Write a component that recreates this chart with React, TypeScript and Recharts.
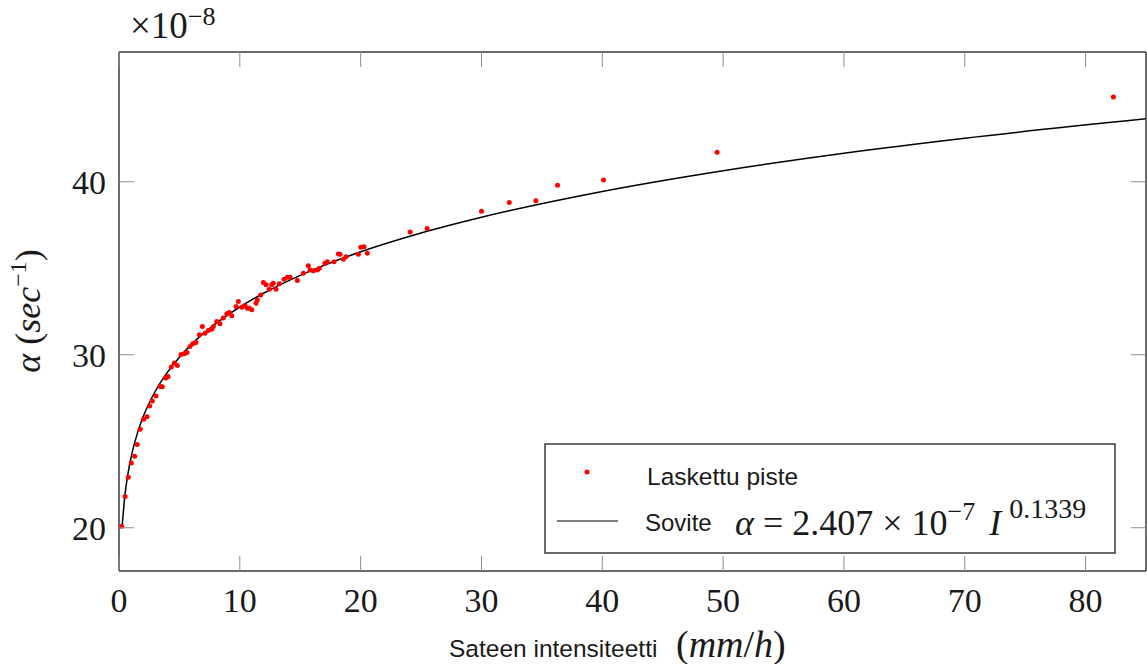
import { ComposedChart, Scatter, Line, XAxis, YAxis } from "recharts";

// Laskettu piste: rain intensity (mm/h) and alpha (x 1e-8 1/s)
const intensity = [
  0.22, 0.5, 0.77, 1.02, 1.3, 1.51, 1.76, 2.04, 2.32, 2.54, 2.76, 3.06, 3.42,
  3.58, 3.87, 4.06, 4.33, 4.58, 4.83, 5.13, 5.41, 5.63, 5.88, 6.1, 6.37, 6.65,
  6.9, 7.12, 7.39, 7.67, 7.81, 8.09, 8.36, 8.63, 8.92, 9.13, 9.33, 9.69, 9.88,
  10.16, 10.43, 10.62, 10.79, 10.99, 11.34, 11.45, 11.73, 11.95, 12.17, 12.44,
  12.64, 12.77, 13.0, 13.27, 13.66, 13.93, 14.16, 14.76, 15.26, 15.67, 15.81,
  16.08, 16.42, 16.58, 17.05, 17.24, 17.8, 18.15, 18.29, 18.57, 18.79, 19.81,
  20.01, 20.28, 20.55, 24.1, 25.5, 30.0, 32.3, 34.5, 36.3, 40.1, 49.5, 82.3,
];
const alpha = [
  20.09, 21.81, 22.92, 23.75, 24.13, 24.81, 25.69, 26.27, 26.42, 27.04, 27.33,
  27.62, 28.17, 28.15, 28.66, 28.75, 29.29, 29.52, 29.38, 30.02, 30.06, 30.13,
  30.48, 30.63, 30.71, 31.15, 31.63, 31.25, 31.4, 31.48, 31.63, 31.92, 31.79,
  32.12, 32.37, 32.44, 32.25, 32.79, 33.08, 32.75, 32.83, 32.69, 32.69, 32.6,
  32.98, 33.17, 33.46, 34.17, 34.04, 33.79, 34.04, 34.14, 33.79, 34.1, 34.37,
  34.48, 34.48, 34.29, 34.71, 35.14, 34.9, 34.86, 34.9, 35.0, 35.29, 35.38,
  35.38, 35.83, 35.81, 35.52, 35.67, 35.81, 36.21, 36.25, 35.87, 37.1, 37.3,
  38.3, 38.8, 38.9, 39.8, 40.1, 41.7, 44.9,
];

// Sovite: fitted curve
const fitIntensity = [0.25, 0.5, 0.75, 1, 1.5, 2, 3, 4, 5, 6, 7.5, 10, 12, 15, 20, 25, 30, 40, 50, 60, 70, 85];
const fitAlpha = [
  19.99, 21.94, 23.16, 24.07, 25.41, 26.41, 27.89, 28.98, 29.86, 30.6, 31.52,
  32.76, 33.57, 34.59, 35.95, 37.04, 37.95, 39.44, 40.64, 41.65, 42.52, 43.64,
];

const xTicks = [0, 10, 20, 30, 40, 50, 60, 70, 80];
const yTicks = [20, 30, 40];

const points = intensity.map((x, i) => ({ x, y: alpha[i] }));
const fit = fitIntensity.map((x, i) => ({ x, y: fitAlpha[i] }));

const SERIF = '"Liberation Serif", "Times New Roman", serif';
const SANS = '"Liberation Sans", Arial, sans-serif';
const FRAME = "#3a3a3a";
const TICK = "#8c8c8c";
const TICK_LEN = 15;
const INK = "#1a1a1a";

const BottomTick = (props: any) => {
  const { x, y, payload } = props;
  return (
    <g>
      <line x1={x} y1={y} x2={x} y2={y - TICK_LEN} stroke={TICK} strokeWidth={1} />
      <text x={x} y={y + 41} textAnchor="middle" fontFamily={SERIF} fontSize={34} fill={INK}>
        {payload.value}
      </text>
    </g>
  );
};

const TopTick = (props: any) => (
  <line x1={props.x} y1={props.y} x2={props.x} y2={props.y + TICK_LEN} stroke={TICK} strokeWidth={1} />
);

const LeftTick = (props: any) => {
  const { x, y, payload } = props;
  return (
    <g>
      <line x1={x} y1={y} x2={x + TICK_LEN} y2={y} stroke={TICK} strokeWidth={1} />
      <text x={x - 13} y={y} dy="0.35em" textAnchor="end" fontFamily={SERIF} fontSize={34} fill={INK}>
        {payload.value}
      </text>
    </g>
  );
};

const RightTick = (props: any) => (
  <line x1={props.x} y1={props.y} x2={props.x - TICK_LEN} y2={props.y} stroke={TICK} strokeWidth={1} />
);

const Dot = (props: any) => <circle cx={props.cx} cy={props.cy} r={2.5} fill="#ff0000" />;

export default function App() {
  return (
    <div style={{ position: "absolute", left: 0, top: 0, width: 1147, height: 664, background: "#fff" }}>
      <ComposedChart width={1147} height={664} margin={{ top: 51, right: 0, left: 0, bottom: 0 }}>
        <XAxis
          xAxisId="b"
          dataKey="x"
          type="number"
          domain={[0, 85]}
          ticks={xTicks}
          allowDataOverflow
          height={93}
          axisLine={{ stroke: FRAME, strokeWidth: 1.5 }}
          tickLine={false}
          tickSize={0}
          tickMargin={0}
          tick={(p: any) => <BottomTick {...p} />}
          interval={0}
        />
        <XAxis
          xAxisId="t"
          dataKey="x"
          type="number"
          orientation="top"
          domain={[0, 85]}
          ticks={xTicks}
          allowDataOverflow
          height={1}
          axisLine={{ stroke: FRAME, strokeWidth: 1.5 }}
          tickLine={false}
          tickSize={0}
          tickMargin={0}
          tick={(p: any) => <TopTick {...p} />}
          interval={0}
        />
        <YAxis
          yAxisId="l"
          dataKey="y"
          type="number"
          domain={[17.5, 47.5]}
          ticks={yTicks}
          allowDataOverflow
          width={119}
          axisLine={{ stroke: FRAME, strokeWidth: 1.5 }}
          tickLine={false}
          tickSize={0}
          tickMargin={0}
          tick={(p: any) => <LeftTick {...p} />}
          interval={0}
        />
        <YAxis
          yAxisId="r"
          dataKey="y"
          type="number"
          orientation="right"
          domain={[17.5, 47.5]}
          ticks={yTicks}
          allowDataOverflow
          width={1}
          axisLine={{ stroke: FRAME, strokeWidth: 1.5 }}
          tickLine={false}
          tickSize={0}
          tickMargin={0}
          tick={(p: any) => <RightTick {...p} />}
          interval={0}
        />
        <Line
          xAxisId="b"
          yAxisId="l"
          data={fit}
          dataKey="y"
          name="Sovite"
          type="monotone"
          stroke="#000"
          strokeWidth={1.5}
          dot={false}
          isAnimationActive={false}
        />
        <Scatter
          xAxisId="b"
          yAxisId="l"
          data={points}
          dataKey="y"
          name="Laskettu piste"
          fill="#ff0000"
          shape={(p: any) => <Dot {...p} />}
          isAnimationActive={false}
        />
      </ComposedChart>

      <svg width={1147} height={664} style={{ position: "absolute", left: 0, top: 0, pointerEvents: "none" }}>
        {/* scale factor */}
        <text x={130} y={38} fontFamily={SERIF} fontSize={37} fill={INK}>
          ×10<tspan fontSize={26} dy={-13}>−8</tspan>
        </text>

        {/* y label */}
        <text
          transform="translate(40, 311) rotate(-90)"
          textAnchor="middle"
          fontFamily={SERIF}
          fontSize={36}
          fill={INK}
        >
          <tspan fontStyle="italic">α</tspan> (<tspan fontStyle="italic">sec</tspan>
          <tspan fontSize={24} dy={-14}>−1</tspan>
          <tspan dy={14}>)</tspan>
        </text>

        {/* x label */}
        <text x={449} y={657} fontFamily={SANS} fontSize={24.5} fill={INK}>
          Sateen intensiteetti
        </text>
        <text x={676} y={657} fontFamily={SERIF} fontSize={38} fill={INK}>
          (<tspan fontStyle="italic">mm</tspan>/<tspan fontStyle="italic">h</tspan>)
        </text>

        {/* legend */}
        <rect x={545} y={444} width={570} height={109} fill="#fff" stroke={FRAME} strokeWidth={1.5} />
        <circle cx={587} cy={472} r={2.5} fill="#ff0000" />
        <text x={647} y={485} fontFamily={SANS} fontSize={24.5} fill={INK}>
          Laskettu piste
        </text>
        <line x1={557} y1={521} x2={618} y2={521} stroke="#000" strokeWidth={1.2} />
        <text x={645} y={531} fontFamily={SANS} fontSize={24} fill={INK}>
          Sovite
        </text>
        <text x={735} y={535} fontFamily={SERIF} fontSize={36} fill={INK} style={{ whiteSpace: "pre" }}>
          <tspan fontStyle="italic">α</tspan> = 2.407 × 10<tspan fontSize={26} dy={-15}>−7</tspan>
          <tspan dy={15} dx={14} fontStyle="italic">I</tspan>
          <tspan fontSize={28} dy={-17} dx={8}>0.1339</tspan>
        </text>
      </svg>
    </div>
  );
}
